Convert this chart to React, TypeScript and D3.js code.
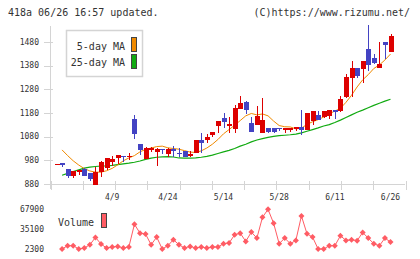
import React, { useEffect } from 'react';
import * as d3 from 'd3';

// daily candles, index 0..60 (last = 6/26)
const opens = [962, 967, 943, 915, 932, 943, 925, 877, 929, 949, 972, 990, 998, 993, 1155, 1049, 986, 1024, 1017, 1027, 1008, 1027, 1011, 1019, 1000, 1010, 1066, 1066, 1088, 1126, 1159, 1126, 1114, 1198, 1225, 1139, 1129, 1097, 1117, 1117, 1116, 1110, 1110, 1111, 1121, 1108, 1147, 1171, 1162, 1167, 1193, 1188, 1248, 1328, 1370, 1366, 1450, 1412, 1370, 1480, 1438];
const closes = [964, 960, 915, 935, 939, 915, 901, 929, 974, 990, 986, 1002, 995, 998, 1091, 1024, 1033, 1033, 1029, 1025, 1026, 1021, 1006, 995, 1006, 1066, 1055, 1079, 1100, 1146, 1143, 1135, 1201, 1223, 1193, 1101, 1169, 1150, 1098, 1098, 1113, 1115, 1117, 1121, 1108, 1180, 1188, 1150, 1188, 1193, 1184, 1239, 1332, 1370, 1337, 1400, 1383, 1391, 1387, 1467, 1505];
const highs = [964, 970, 944, 936, 940, 946, 926, 950, 978, 991, 998, 1003, 999, 1012, 1173, 1050, 1035, 1035, 1033, 1027, 1033, 1040, 1032, 1021, 1018, 1067, 1095, 1090, 1101, 1147, 1181, 1163, 1214, 1252, 1231, 1164, 1209, 1243, 1118, 1118, 1117, 1116, 1117, 1122, 1193, 1181, 1189, 1188, 1189, 1194, 1194, 1252, 1345, 1400, 1371, 1401, 1552, 1429, 1480, 1481, 1514];
const lows = [962, 953, 904, 904, 918, 914, 894, 876, 908, 939, 957, 964, 974, 981, 1069, 1002, 985, 1014, 957, 1006, 995, 995, 995, 994, 995, 1009, 1012, 1052, 1077, 1097, 1118, 1097, 1097, 1197, 1174, 1100, 1128, 1096, 1094, 1094, 1106, 1097, 1098, 1104, 1087, 1107, 1128, 1149, 1160, 1156, 1155, 1184, 1243, 1248, 1330, 1307, 1357, 1387, 1369, 1408, 1437];
const ma5 = [null, 1024, 1000, 978, 960, 945, 935, 930, 930, 936, 946, 961, 978, 990, 1000, 1016, 1026, 1032, 1038, 1040, 1033, 1030, 1027, 1021, 1015, 1013, 1020, 1032, 1048, 1068, 1092, 1110, 1128, 1148, 1168, 1178, 1172, 1176, 1168, 1146, 1127, 1122, 1121, 1113, 1116, 1132, 1143, 1152, 1163, 1177, 1188, 1200, 1225, 1255, 1290, 1320, 1342, 1368, 1383, 1404, 1429];
const ma25 = [null, 917, 925, 933, 940, 947, 951, 954, 956, 957, 959, 962, 965, 968, 972, 977, 984, 989, 993, 995, 996, 994, 990, 989, 989, 990, 993, 997, 1002, 1009, 1016, 1022, 1030, 1040, 1048, 1058, 1066, 1072, 1077, 1081, 1084, 1086, 1088, 1091, 1096, 1103, 1110, 1117, 1125, 1131, 1140, 1150, 1161, 1172, 1183, 1192, 1202, 1212, 1221, 1230, 1238];
const volumes = [null, 2300, 7700, 7700, 2300, 3900, 9300, 21300, 10400, 3900, 5600, 6600, 3900, 5600, 42900, 28300, 26700, 9300, 21800, 2300, 7700, 17500, 9300, 3900, 6600, 3900, 5600, 3900, 5600, 5600, 11000, 12100, 25600, 28300, 14800, 30000, 20200, 54300, 67300, 44600, 11000, 20200, 11000, 16400, 56500, 27200, 21800, 2300, 2300, 7700, 7700, 24000, 16400, 17500, 15900, 29400, 20200, 11000, 7700, 20200, 13700];

const dateLabels = ['4/9', '4/24', '5/14', '5/28', '6/11', '6/26'];
const dateIdx = [10, 20, 30, 40, 50, 60];
const priceTicks = [880, 980, 1080, 1180, 1280, 1380, 1480];
const volumeTicks = [2300, 35100, 67900];

const UP = '#dd0000';
const DOWN = '#4343c3';
const MA5C = '#f08a00';
const MA25C = '#11aa11';
const VOLC = '#ff5c64';
const AXIS = '#d4d4d4';
const mono = '"DejaVu Sans Mono", "Liberation Mono", monospace';

const App: React.FC = () => {
  useEffect(() => {
    document.body.style.margin = '0';
  }, []);

  const x = d3.scaleLinear().domain([0, 60]).range([56.5, 390.5]);
  const y = d3.scaleLinear().domain([880, 1480]).range([184, 42]);
  const yv = d3.scaleLinear().domain([2300, 67900]).range([249, 209]);
  const xt = d3.scaleLinear().domain([0, 11]).range([50.5, 405.5]);

  const px = (i: number) => Math.round(x(i));

  const lineMa = d3.line<number | null>()
    .defined(d => d != null)
    .x((_, i) => x(i))
    .y(d => y(d as number));

  const lineVol = d3.line<number | null>()
    .defined(d => d != null)
    .x((_, i) => x(i))
    .y(d => yv(d as number));

  return (
    <svg width={420} height={259} style={{ display: 'block', background: '#fff' }} fontFamily={mono}>
      {/* header */}
      <text x={8} y={16} fontSize={10} fill="#333">418a 06/26 16:57 updated.</text>
      <text x={410} y={16} fontSize={10} fill="#333" textAnchor="end">(C)https://www.rizumu.net/</text>

      {/* price axes */}
      <g stroke={AXIS} strokeWidth={1} shapeRendering="crispEdges">
        <line x1={50.5} x2={50.5} y1={26} y2={189} />
        <line x1={50} x2={405} y1={184.5} y2={184.5} />
        {priceTicks.map(t => (
          <line key={t} x1={44} x2={53} y1={Math.round(y(t)) + 0.5} y2={Math.round(y(t)) + 0.5} />
        ))}
        {d3.range(12).map(j => (
          <line key={j} x1={Math.round(xt(j)) + 0.5} x2={Math.round(xt(j)) + 0.5} y1={181} y2={190} />
        ))}
      </g>
      {priceTicks.map(t => (
        <text key={t} x={39} y={y(t)} dy="0.35em" fontSize={8} textAnchor="end" fill="#333">{t}</text>
      ))}

      {/* moving averages */}
      <path d={lineMa(ma25) || ''} fill="none" stroke={MA25C} strokeWidth={1.2} />
      <path d={lineMa(ma5) || ''} fill="none" stroke={MA5C} strokeWidth={1} />

      {/* candles */}
      <g shapeRendering="crispEdges">
        {closes.map((c, i) => {
          const o = opens[i];
          const col = c >= o ? UP : DOWN;
          const top = Math.round(y(Math.max(o, c)));
          const bot = Math.round(y(Math.min(o, c)));
          const cx = px(i);
          return (
            <g key={i}>
              <rect x={cx} y={Math.round(y(highs[i]))} width={1} height={Math.max(1, Math.round(y(lows[i])) - Math.round(y(highs[i])))} fill={col} />
              <rect x={cx - 2} y={top} width={5} height={Math.max(1, bot - top)} fill={col} />
            </g>
          );
        })}
      </g>

      {/* legend */}
      <rect x={66.5} y={30.5} width={76} height={46} fill="#fff" stroke={AXIS} strokeWidth={1.5} />
      <text x={125} y={46} dy="0.35em" fontSize={10} textAnchor="end" fill="#333">5-day MA</text>
      <text x={125} y={62} dy="0.35em" fontSize={10} textAnchor="end" fill="#333">25-day MA</text>
      <rect x={131.5} y={37.5} width={5} height={14} fill={MA5C} stroke="#444" />
      <rect x={131.5} y={54.5} width={5} height={14} fill={MA25C} stroke="#444" />

      {/* date labels */}
      {dateLabels.map((d, j) => (
        <text key={d} x={x(dateIdx[j])} y={197} dy="0.35em" fontSize={8} textAnchor="middle" fill="#333">{d}</text>
      ))}

      {/* volume */}
      {volumeTicks.map(t => (
        <text key={t} x={44} y={yv(t)} dy="0.35em" fontSize={8} textAnchor="end" fill="#333">{t}</text>
      ))}
      <text x={58} y={222} dy="0.35em" fontSize={10} fill="#333">Volume</text>
      <rect x={101.5} y={213.5} width={5} height={14} fill={VOLC} stroke="#444" />
      <path d={lineVol(volumes) || ''} fill="none" stroke={VOLC} strokeWidth={1} />
      {volumes.map((v, i) => v == null ? null : (
        <path key={i} d={`M${x(i)},${yv(v) - 3}L${x(i) + 3},${yv(v)}L${x(i)},${yv(v) + 3}L${x(i) - 3},${yv(v)}Z`} fill={VOLC} />
      ))}
    </svg>
  );
};

export default App;
